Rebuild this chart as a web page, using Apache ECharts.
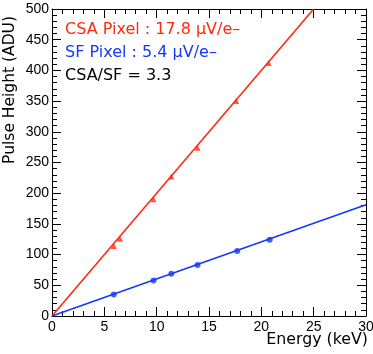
<!DOCTYPE html>
<html lang="en">
<head>
    <meta charset="UTF-8">
    <title>Pulse Height vs Energy</title>
    <style>
        body,html{ margin:0; padding:0; background:#fff; }
    </style>
</head>
<body>
<div id="main" style="width:373px; height:354px;"></div>
<script src="https://cdn.jsdelivr.net/npm/echarts@6/dist/echarts.min.js"></script>
<script>
    // measured points
    var csaEnergy = [5.9, 6.5, 9.7, 11.4, 13.9, 17.6, 20.7];
    var csaHeight = [114, 126, 190, 227, 274, 350, 412];
    var sfEnergy = [5.9, 9.7, 11.4, 13.9, 17.7, 20.8];
    var sfHeight = [35, 58, 69, 83, 106, 124];
    // fit lines (endpoints)
    var csaFit = [[0, 0], [25.0, 500]];
    var sfFit = [[0, 0], [30, 181]];

    var red = '#ff2a12';
    var blue = '#1438ff';
    var tickFont = 'Liberation Sans';
    var textFont = 'DejaVu Sans';

    function zip(a, b) {
        return a.map(function (v, i) { return [v, b[i]]; });
    }

    var myChart = echarts.init(document.getElementById('main'));

    var tickStyle = { color: '#000', width: 1 };
    var baseX = {
        type: 'value', min: 0, max: 30, interval: 5,
        axisLine: { onZero: false, lineStyle: tickStyle },
        axisTick: { inside: true, length: 9, lineStyle: tickStyle },
        minorTick: { show: true, splitNumber: 5, length: 5, lineStyle: { color: '#000' } },
        splitLine: { show: false }
    };
    var baseY = {
        type: 'value', min: 0, max: 500, interval: 50,
        axisLine: { onZero: false, lineStyle: tickStyle },
        axisTick: { inside: true, length: 9, lineStyle: tickStyle },
        minorTick: { show: true, splitNumber: 5, length: 5, lineStyle: { color: '#000' } },
        splitLine: { show: false }
    };

    myChart.setOption({
        animation: false,
        grid: { left: 52, right: 7, top: 9, bottom: 38, containLabel: false, outerBoundsMode: 'none' },
        xAxis: [
            Object.assign({}, baseX, {
                position: 'bottom',
                axisLabel: { color: '#000', fontSize: 14, fontFamily: tickFont, margin: 4, hideOverlap: false },
                name: 'Energy (keV)', nameLocation: 'end',
                nameGap: 2, nameMoveOverlap: false,
                nameTextStyle: { color: '#000', fontSize: 15.8, fontFamily: textFont,
                    align: 'right', verticalAlign: 'top', padding: [16, 0, 0, 0] }
            }),
            Object.assign({}, baseX, { position: 'top', axisLabel: { show: false } })
        ],
        yAxis: [
            Object.assign({}, baseY, {
                position: 'left',
                axisLabel: { color: '#000', fontSize: 14, fontFamily: tickFont, margin: 3, hideOverlap: false },
                name: 'Pulse Height (ADU)', nameLocation: 'end', nameRotate: 90,
                nameGap: -7, nameMoveOverlap: false,
                nameTextStyle: { color: '#000', fontSize: 15.5, fontFamily: textFont,
                    align: 'right', verticalAlign: 'bottom', padding: [0, 0, 34, 0] }
            }),
            Object.assign({}, baseY, { position: 'right', axisLabel: { show: false } })
        ],
        graphic: [
            { type: 'text', x: 65, y: 29.5, style: { text: 'CSA Pixel : 17.8 μV/e–', fill: red, font: '16px ' + textFont, verticalAlign: 'middle' } },
            { type: 'text', x: 65, y: 52.5, style: { text: 'SF Pixel : 5.4 μV/e–', fill: blue, font: '16px ' + textFont, verticalAlign: 'middle' } },
            { type: 'text', x: 65, y: 76, style: { text: 'CSA/SF = 3.3', fill: '#000', font: '16px ' + textFont, verticalAlign: 'middle' } }
        ],
        series: [
            {
                type: 'line', data: csaFit, symbol: 'none',
                lineStyle: { color: red, width: 1.6 }, z: 2
            },
            {
                type: 'line', data: sfFit, symbol: 'none',
                lineStyle: { color: blue, width: 1.6 }, z: 2
            },
            {
                type: 'scatter', data: zip(csaEnergy, csaHeight),
                symbol: 'triangle', symbolSize: 6,
                itemStyle: { color: red }, z: 3
            },
            {
                type: 'scatter', data: zip(sfEnergy, sfHeight),
                symbol: 'circle', symbolSize: 6,
                itemStyle: { color: blue }, z: 3
            }
        ]
    });
</script>
</body>
</html>
